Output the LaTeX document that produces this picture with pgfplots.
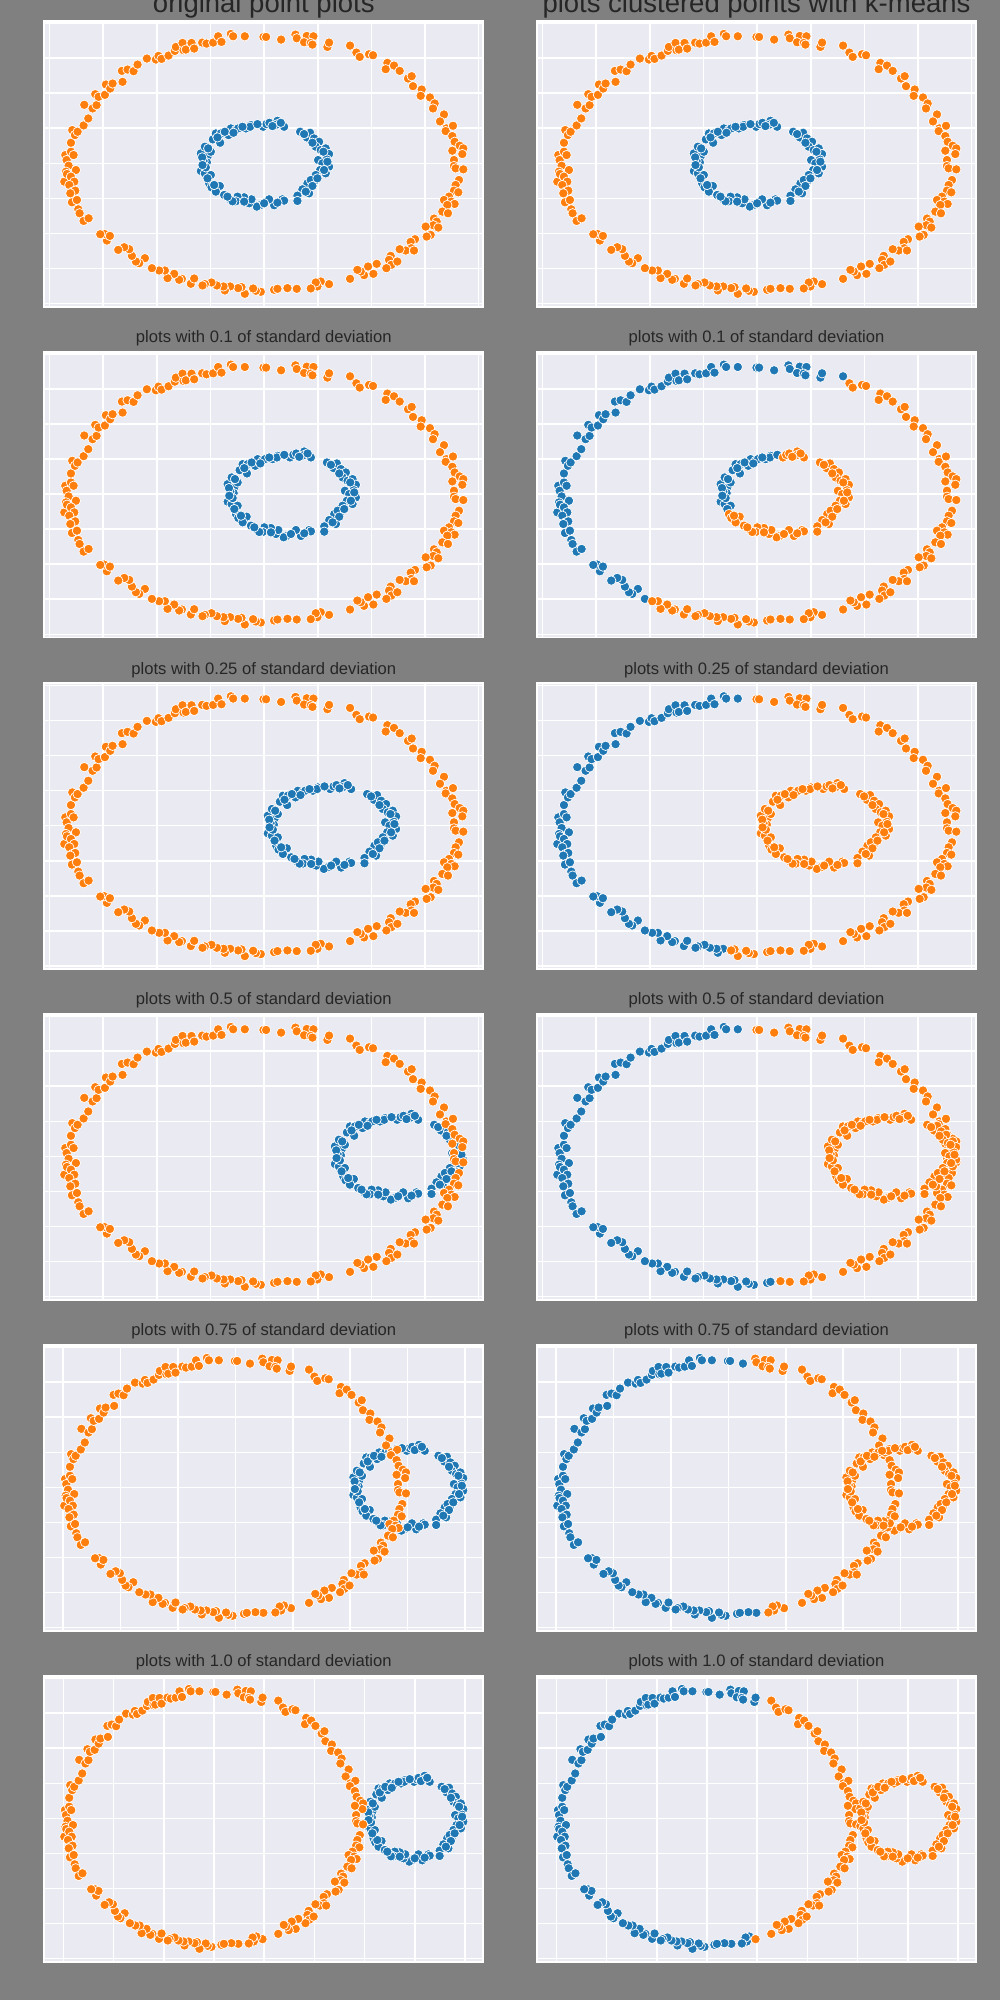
\documentclass[border=0pt]{standalone}
\usepackage{pgfplots}
\usepackage{pgfplotstable}
\pgfplotsset{compat=1.18}
\usepackage{fontspec}
\setmainfont{Liberation Sans}
\definecolor{axbg}{HTML}{EAEAF2}
\definecolor{cb}{HTML}{1F77B4}
\definecolor{co}{HTML}{FF7F0E}
\definecolor{bgc}{HTML}{808080}
\definecolor{tc}{HTML}{262626}

\pgfplotstableread{
x y
-597 25
-593 10
-580 35
-572 25
-587 -7
-595 -25
-600 -55
-592 -32
-565 -20
-580 -40
-570 -55
-585 -65
-575 -85
-567 -82
-582 -90
-577 -117
-562 -110
-558 -138
-554 -150
-542 -173
-527 -165
-580 62
-576 100
-568 85
-560 95
-542 114
-528 135
-540 176
-515 165
-503 175
-507 208
-497 200
-478 206
-475 237
-462 225
-455 240
-425 245
-427 278
-410 282
-392 277
-380 297
-352 315
-325 312
-317 323
-308 314
-287 324
-268 338
-265 350
-242 340
-245 362
-235 342
-218 362
-210 345
-186 363
-173 360
-153 363
-138 382
-128 365
-100 389
-93 382
-58 382
-2 380
6 380
51 372
94 387
98 376
128 383
148 382
120 364
140 362
145 357
190 350
195 363
258 354
277 333
287 320
315 328
327 325
370 302
365 283
390 294
407 278
432 255
443 262
447 232
473 222
470 203
498 198
512 180
507 165
540 147
528 126
547 105
567 113
545 97
565 82
572 65
587 53
598 45
595 28
565 38
570 10
570 -8
575 -15
598 -18
585 -50
575 -65
570 -82
583 -87
555 -100
540 -110
562 -115
572 -122
550 -125
535 -145
552 -150
510 -166
518 -175
508 -186
523 -193
485 -190
500 -215
488 -220
453 -228
440 -236
442 -255
425 -262
407 -258
450 -262
380 -278
375 -290
382 -305
400 -295
367 -315
338 -302
328 -332
312 -310
300 -336
290 -325
280 -320
258 -347
195 -363
170 -355
160 -370
155 -358
140 -376
98 -377
70 -375
30 -380
40 -377
-10 -386
-25 -383
-33 -376
-58 -392
-68 -372
-78 -375
-102 -370
-118 -382
-122 -370
-142 -367
-158 -358
-178 -363
-185 -367
-220 -362
-210 -346
-247 -347
-255 -350
-270 -332
-290 -345
-298 -322
-315 -322
-337 -315
-358 -285
-375 -300
-385 -295
-397 -278
-405 -258
-420 -252
-438 -260
-472 -232
-480 -212
-463 -218
-492 -213
}\outerdata

\pgfplotstableread{
x y
-190 30
-178 50
-170 20
-160 35
-172 3
-182 7
-190 -23
-178 -30
-160 -35
-165 -60
-150 -80
-133 -68
-158 -72
-154 72
-145 90
-130 90
-132 62
-107 85
-100 105
-85 100
-78 105
-55 105
-40 115
-42 110
-3 110
7 118
16 122
40 128
38 117
60 110
108 95
128 78
138 92
150 75
165 65
155 50
170 40
185 45
195 28
188 12
162 10
175 0
195 -10
185 -30
168 -20
155 -35
150 -55
130 -60
140 -50
135 -90
115 -78
100 -97
100 -113
55 -108
60 -112
30 -126
15 -108
-10 -125
-22 -130
-45 -120
-38 -108
-60 -102
-80 -100
-85 -114
-102 -108
-95 -114
-145 -85
-186 18
-175 -12
-168 45
-140 78
-118 95
-92 92
-65 110
-20 118
25 112
50 122
120 88
145 62
178 35
190 5
180 -20
160 -45
145 -68
125 -85
-120 -95
-60 -115
0 -120
40 -118
-110 -100
-150 -65
-170 -45
-185 -5
}\innerdata

\pgfplotsset{
  panel/.style={
    scale only axis, width=219.5pt, height=142.9pt,
    anchor=north west,
    axis background/.style={fill=axbg},
    axis line style={white, line width=0.9pt},
    grid=major, major grid style={white, line width=0.8pt},
    xticklabels={}, yticklabels={}, major tick length=0pt,
    ymin=-431, ymax=428,
    ytick={-421.6,-316.2,-210.8,-105.4,0,105.4,210.8,316.2,421.6},
  },
  pA/.style={xmin=-660,xmax=658,xtick={-644,-483,-322,-161,0,161,322,483,644}},
  pB/.style={xmin=-670,xmax=869,xtick={-603.75,-402.5,-201.25,0,201.25,402.5,603.75,805}},
  pC/.style={xmin=-680,xmax=1080,xtick={-603.75,-402.5,-201.25,0,201.25,402.5,603.75,805,1006.25}},
  mblue/.style={only marks, mark=*, mark size=2.35pt, mark options={fill=cb, draw=white, line width=0.35pt}},
  morange/.style={only marks, mark=*, mark size=2.35pt, mark options={fill=co, draw=white, line width=0.35pt}},
}

\begin{document}
\begin{tikzpicture}
\useasboundingbox (0,0) rectangle (500pt,1000pt);
\fill[bgc] (0,0) rectangle (500pt,1000pt);

% ---------- row 1 ----------
\begin{axis}[panel, pA, at={(22.15pt,989.5pt)}]
\addplot[mblue] table[x expr=\thisrow{x}, y=y] {\innerdata};
\addplot[morange] table {\outerdata};
\end{axis}
\begin{axis}[panel, pA, at={(268.65pt,989.5pt)}]
\addplot[mblue] table[x expr=\thisrow{x}, y=y] {\innerdata};
\addplot[morange] table {\outerdata};
\end{axis}

% ---------- row 2 (0.1) ----------
\begin{axis}[panel, pA, at={(22.15pt,824.15pt)}]
\addplot[mblue] table[x expr=\thisrow{x}+80.5, y=y] {\innerdata};
\addplot[morange] table {\outerdata};
\end{axis}
\begin{axis}[panel, pA, at={(268.65pt,824.15pt)}]
\addplot[mblue, restrict expr to domain={\thisrow{y}-1.118*\thisrow{x}-47.5}{0:100000}] table {\outerdata};
\addplot[morange, restrict expr to domain={\thisrow{y}-1.118*\thisrow{x}-47.5}{-100000:0}] table {\outerdata};
\addplot[mblue, restrict expr to domain={\thisrow{y}-1.118*(\thisrow{x}+80.5)-47.5}{0:100000}] table[x expr=\thisrow{x}+80.5, y=y] {\innerdata};
\addplot[morange, restrict expr to domain={\thisrow{y}-1.118*(\thisrow{x}+80.5)-47.5}{-100000:0}] table[x expr=\thisrow{x}+80.5, y=y] {\innerdata};
\end{axis}

% ---------- row 3 (0.25) ----------
\begin{axis}[panel, pA, at={(22.15pt,658.35pt)}]
\addplot[mblue] table[x expr=\thisrow{x}+201.25, y=y] {\innerdata};
\addplot[morange] table {\outerdata};
\end{axis}
\begin{axis}[panel, pA, at={(268.65pt,658.35pt)}]
\addplot[mblue, restrict expr to domain={\thisrow{x}-0.09*\thisrow{y}}{-100000:-65}] table {\outerdata};
\addplot[morange, restrict expr to domain={\thisrow{x}-0.09*\thisrow{y}}{-65:100000}] table {\outerdata};
\addplot[morange] table[x expr=\thisrow{x}+201.25, y=y] {\innerdata};
\end{axis}

% ---------- row 4 (0.5) ----------
\begin{axis}[panel, pA, at={(22.15pt,493pt)}]
\addplot[mblue] table[x expr=\thisrow{x}+402.5, y=y] {\innerdata};
\addplot[morange] table {\outerdata};
\end{axis}
\begin{axis}[panel, pA, at={(268.65pt,493pt)}]
\addplot[mblue, restrict expr to domain={\thisrow{x}+0.1105*\thisrow{y}}{-100000:11.4}] table {\outerdata};
\addplot[morange, restrict expr to domain={\thisrow{x}+0.1105*\thisrow{y}}{11.4:100000}] table {\outerdata};
\addplot[morange] table[x expr=\thisrow{x}+402.5, y=y] {\innerdata};
\end{axis}

% ---------- row 5 (0.75) ----------
\begin{axis}[panel, pB, at={(22.15pt,327.5pt)}]
\addplot[mblue] table[x expr=\thisrow{x}+603.75, y=y] {\innerdata};
\addplot[morange] table {\outerdata};
\end{axis}
\begin{axis}[panel, pB, at={(268.65pt,327.5pt)}]
\addplot[mblue, restrict expr to domain={\thisrow{x}+0.0635*\thisrow{y}}{-100000:96.3}] table {\outerdata};
\addplot[morange, restrict expr to domain={\thisrow{x}+0.0635*\thisrow{y}}{96.3:100000}] table {\outerdata};
\addplot[morange] table[x expr=\thisrow{x}+603.75, y=y] {\innerdata};
\end{axis}

% ---------- row 6 (1.0) ----------
\begin{axis}[panel, pC, at={(22.15pt,162pt)}]
\addplot[mblue] table[x expr=\thisrow{x}+805, y=y] {\innerdata};
\addplot[morange] table {\outerdata};
\end{axis}
\begin{axis}[panel, pC, at={(268.65pt,162pt)}]
\addplot[mblue, restrict expr to domain={\thisrow{x}-0.0655*\thisrow{y}}{-100000:201.5}] table {\outerdata};
\addplot[morange, restrict expr to domain={\thisrow{x}-0.0655*\thisrow{y}}{201.5:100000}] table {\outerdata};
\addplot[morange] table[x expr=\thisrow{x}+805, y=y] {\innerdata};
\end{axis}

% ---------- titles ----------
\begin{scope}[every node/.style={anchor=base, text=tc}]
\node[font=\fontsize{13.75pt}{16pt}\selectfont] at (131.9pt,993.65pt) {original point plots};
\node[font=\fontsize{13.75pt}{16pt}\selectfont] at (378.25pt,993.65pt) {plots clustered points with k-means};
\node[font=\fontsize{8.3pt}{10pt}\selectfont] at (131.9pt,828.65pt) {plots with 0.1 of standard deviation};
\node[font=\fontsize{8.3pt}{10pt}\selectfont] at (378.25pt,828.65pt) {plots with 0.1 of standard deviation};
\node[font=\fontsize{8.3pt}{10pt}\selectfont] at (131.9pt,662.85pt) {plots with 0.25 of standard deviation};
\node[font=\fontsize{8.3pt}{10pt}\selectfont] at (378.25pt,662.85pt) {plots with 0.25 of standard deviation};
\node[font=\fontsize{8.3pt}{10pt}\selectfont] at (131.9pt,497.5pt) {plots with 0.5 of standard deviation};
\node[font=\fontsize{8.3pt}{10pt}\selectfont] at (378.25pt,497.5pt) {plots with 0.5 of standard deviation};
\node[font=\fontsize{8.3pt}{10pt}\selectfont] at (131.9pt,332pt) {plots with 0.75 of standard deviation};
\node[font=\fontsize{8.3pt}{10pt}\selectfont] at (378.25pt,332pt) {plots with 0.75 of standard deviation};
\node[font=\fontsize{8.3pt}{10pt}\selectfont] at (131.9pt,166.5pt) {plots with 1.0 of standard deviation};
\node[font=\fontsize{8.3pt}{10pt}\selectfont] at (378.25pt,166.5pt) {plots with 1.0 of standard deviation};
\end{scope}
\end{tikzpicture}
\end{document}
